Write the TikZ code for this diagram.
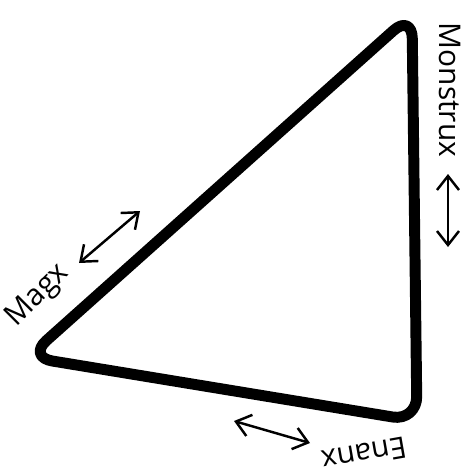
\documentclass[tikz,border=0pt]{standalone}
\usepackage{fontspec}
\setmainfont{Open Sans}
\usetikzlibrary{arrows.meta}
\tikzset{
    edge/.style={line width=11*0.567pt,line join=round,line cap=round,rounded corners=14pt},
    tag/.style={font=\fontsize{17}{17}\selectfont,inner sep=0pt},
    dbl/.style={{Straight Barb[length=2.8mm,width=4.4mm]}-{Straight Barb[length=2.8mm,width=4.4mm]},line width=1.4pt}
}
\begin{document}
\begin{tikzpicture}[x=0.02cm,y=-0.02cm]
    \useasboundingbox (0,0) rectangle (461,474);
    % corners of the triangle
    \coordinate (top)    at (412,14);
    \coordinate (left)   at (28,357);
    \coordinate (bottom) at (417,421);
    \draw[edge] (top) -- (left) -- (bottom) -- cycle;

    % side labels
    \node[tag,rotate=-90] (monstrux) at (450,90)  {Monstrux};
    \node[tag,rotate=45]  (magx)     at (38,296)  {Magx};
    \node[tag,rotate=190] (enanx)    at (364,454) {Enanx};

    % double arrows
    \coordinate (m1) at (448,174);
    \coordinate (m2) at (448,247);
    \coordinate (g1) at (79,263);
    \coordinate (g2) at (140,211);
    \coordinate (e1) at (234,421);
    \coordinate (e2) at (310,443);
    \draw[dbl] (m1) -- (m2);
    \draw[dbl] (g1) -- (g2);
    \draw[dbl] (e1) -- (e2);
\end{tikzpicture}
\end{document}
